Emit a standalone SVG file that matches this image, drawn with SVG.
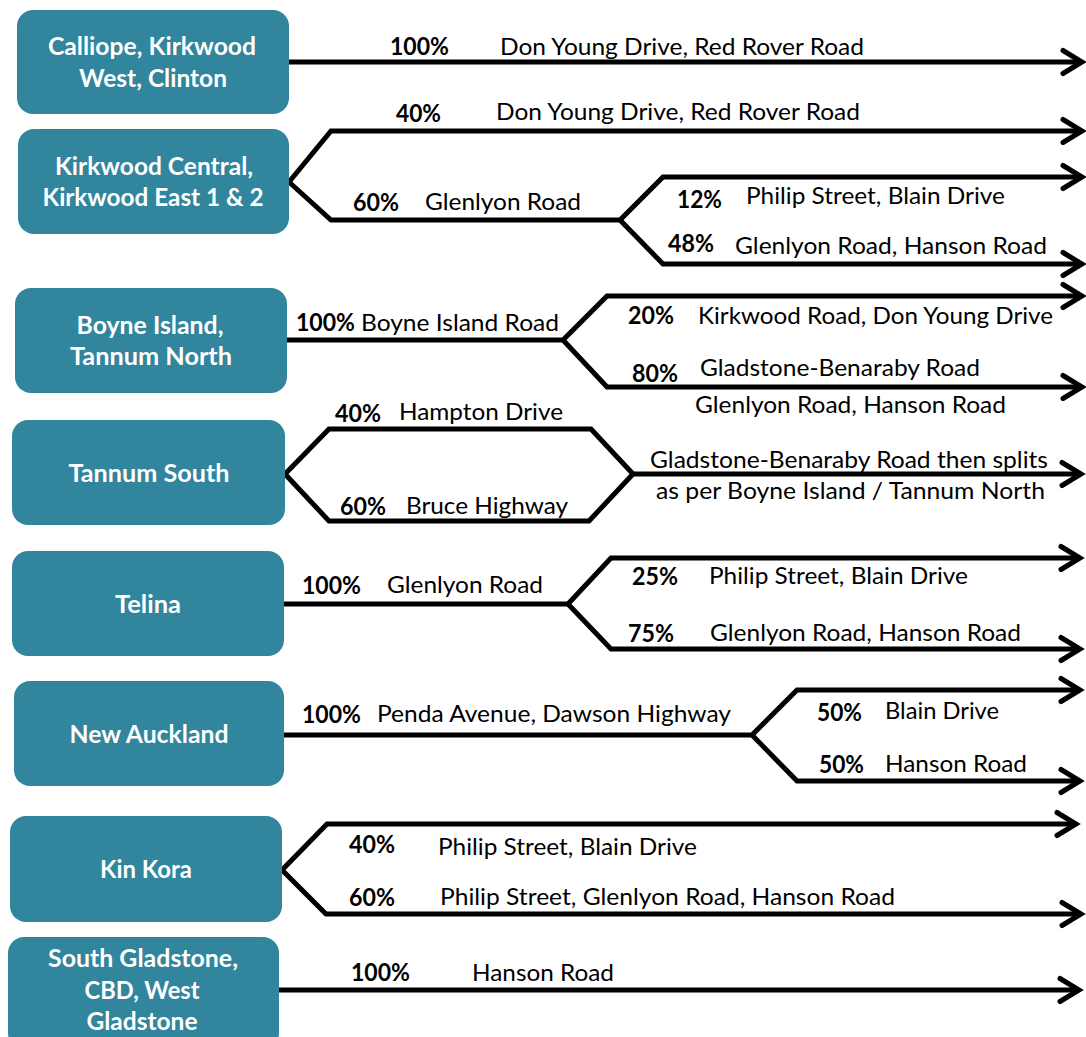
<svg xmlns="http://www.w3.org/2000/svg" width="1086" height="1037" viewBox="0 0 1086 1037">
<defs>
<style>
.box{fill:#31859C;}
.bx{font-family:Lato,"Liberation Sans",sans-serif;font-weight:bold;font-size:24px;fill:#FFFFFF;text-anchor:middle;}
.lb{font-family:Lato,"Liberation Sans",sans-serif;font-size:24px;fill:#000000;}
.pc{font-family:Lato,"Liberation Sans",sans-serif;font-weight:bold;font-size:24px;fill:#000000;}
.ln{fill:none;stroke:#000000;stroke-width:5;stroke-linejoin:miter;}
</style>
<marker id="ah" markerUnits="userSpaceOnUse" markerWidth="30" markerHeight="30" viewBox="-24 -15 30 30" refX="0" refY="0" orient="auto">
<path d="M-19,-11.5 L0,0 L-19,11.5" fill="none" stroke="#000000" stroke-width="5" stroke-linecap="round" stroke-linejoin="miter"/>
</marker>
</defs>
<rect width="1086" height="1037" fill="#FFFFFF"/>

<g id="connectors">
<path class="ln" d="M289,62 H1082" marker-end="url(#ah)"/>
<path class="ln" d="M289,182 L331,131 H1082" marker-end="url(#ah)"/>
<path class="ln" d="M289,182 L331,220 H620 L663,177 H1082" marker-end="url(#ah)"/>
<path class="ln" d="M620,220 L663,264 H1082" marker-end="url(#ah)"/>
<path class="ln" d="M287,340 H563 L607,296 H1082" marker-end="url(#ah)"/>
<path class="ln" d="M563,340 L607,387 H1082" marker-end="url(#ah)"/>
<path class="ln" d="M285,474 L329,429 H591 L633,474 M285,474 L329,521 H589 L633,474"/>
<path class="ln" d="M633,474 H1081" marker-end="url(#ah)"/>
<path class="ln" d="M284,604 H568 L611,558 H1080" marker-end="url(#ah)"/>
<path class="ln" d="M568,604 L611,649 H1080" marker-end="url(#ah)"/>
<path class="ln" d="M284,735 H752 L797,690 H1080" marker-end="url(#ah)"/>
<path class="ln" d="M752,735 L797,781 H1080" marker-end="url(#ah)"/>
<path class="ln" d="M282,870 L327,824 H1076" marker-end="url(#ah)"/>
<path class="ln" d="M282,870 L326,914 H1081" marker-end="url(#ah)"/>
<path class="ln" d="M279,990 H1079" marker-end="url(#ah)"/>
</g>

<g id="labels">
<text class="pc" x="390" y="55" textLength="59" lengthAdjust="spacingAndGlyphs">100%</text>
<text class="lb" x="500" y="55" textLength="364" lengthAdjust="spacingAndGlyphs">Don Young Drive, Red Rover Road</text>

<text class="pc" x="396" y="122" textLength="45" lengthAdjust="spacingAndGlyphs">40%</text>
<text class="lb" x="496" y="120" textLength="364" lengthAdjust="spacingAndGlyphs">Don Young Drive, Red Rover Road</text>
<text class="pc" x="353" y="211" textLength="46" lengthAdjust="spacingAndGlyphs">60%</text>
<text class="lb" x="425" y="210" textLength="156" lengthAdjust="spacingAndGlyphs">Glenlyon Road</text>
<text class="pc" x="677" y="208" textLength="45" lengthAdjust="spacingAndGlyphs">12%</text>
<text class="lb" x="746" y="204" textLength="259" lengthAdjust="spacingAndGlyphs">Philip Street, Blain Drive</text>
<text class="pc" x="668" y="252" textLength="46" lengthAdjust="spacingAndGlyphs">48%</text>
<text class="lb" x="735" y="254" textLength="312" lengthAdjust="spacingAndGlyphs">Glenlyon Road, Hanson Road</text>

<text class="pc" x="296" y="331" textLength="59" lengthAdjust="spacingAndGlyphs">100%</text>
<text class="lb" x="361" y="331" textLength="198" lengthAdjust="spacingAndGlyphs">Boyne Island Road</text>
<text class="pc" x="628" y="324" textLength="46" lengthAdjust="spacingAndGlyphs">20%</text>
<text class="lb" x="698" y="324" textLength="355" lengthAdjust="spacingAndGlyphs">Kirkwood Road, Don Young Drive</text>
<text class="pc" x="632" y="382" textLength="46" lengthAdjust="spacingAndGlyphs">80%</text>
<text class="lb" x="700" y="376" textLength="280" lengthAdjust="spacingAndGlyphs">Gladstone-Benaraby Road</text>
<text class="lb" x="695" y="413" textLength="311" lengthAdjust="spacingAndGlyphs">Glenlyon Road, Hanson Road</text>

<text class="pc" x="335" y="422" textLength="46" lengthAdjust="spacingAndGlyphs">40%</text>
<text class="lb" x="399" y="420" textLength="164" lengthAdjust="spacingAndGlyphs">Hampton Drive</text>
<text class="pc" x="340" y="515" textLength="46" lengthAdjust="spacingAndGlyphs">60%</text>
<text class="lb" x="406" y="514" textLength="162" lengthAdjust="spacingAndGlyphs">Bruce Highway</text>
<text class="lb" x="650" y="468" textLength="398" lengthAdjust="spacingAndGlyphs">Gladstone-Benaraby Road then splits</text>
<text class="lb" x="656" y="499" textLength="389" lengthAdjust="spacingAndGlyphs">as per Boyne Island / Tannum North</text>

<text class="pc" x="302" y="594" textLength="59" lengthAdjust="spacingAndGlyphs">100%</text>
<text class="lb" x="387" y="593" textLength="156" lengthAdjust="spacingAndGlyphs">Glenlyon Road</text>
<text class="pc" x="632" y="585" textLength="46" lengthAdjust="spacingAndGlyphs">25%</text>
<text class="lb" x="709" y="584" textLength="259" lengthAdjust="spacingAndGlyphs">Philip Street, Blain Drive</text>
<text class="pc" x="628" y="642" textLength="46" lengthAdjust="spacingAndGlyphs">75%</text>
<text class="lb" x="710" y="641" textLength="311" lengthAdjust="spacingAndGlyphs">Glenlyon Road, Hanson Road</text>

<text class="pc" x="302" y="723" textLength="59" lengthAdjust="spacingAndGlyphs">100%</text>
<text class="lb" x="377" y="722" textLength="354" lengthAdjust="spacingAndGlyphs">Penda Avenue, Dawson Highway</text>
<text class="pc" x="817" y="721" textLength="45" lengthAdjust="spacingAndGlyphs">50%</text>
<text class="lb" x="885" y="719" textLength="114" lengthAdjust="spacingAndGlyphs">Blain Drive</text>
<text class="pc" x="819" y="773" textLength="45" lengthAdjust="spacingAndGlyphs">50%</text>
<text class="lb" x="885" y="772" textLength="142" lengthAdjust="spacingAndGlyphs">Hanson Road</text>

<text class="pc" x="349" y="853" textLength="46" lengthAdjust="spacingAndGlyphs">40%</text>
<text class="lb" x="438" y="855" textLength="259" lengthAdjust="spacingAndGlyphs">Philip Street, Blain Drive</text>
<text class="pc" x="349" y="906" textLength="46" lengthAdjust="spacingAndGlyphs">60%</text>
<text class="lb" x="440" y="905" textLength="455" lengthAdjust="spacingAndGlyphs">Philip Street, Glenlyon Road, Hanson Road</text>

<text class="pc" x="351" y="981" textLength="59" lengthAdjust="spacingAndGlyphs">100%</text>
<text class="lb" x="472" y="981" textLength="142" lengthAdjust="spacingAndGlyphs">Hanson Road</text>
</g>

<g id="node-calliope">
<rect class="box" x="17" y="10" width="272" height="104" rx="16"/>
<text class="bx" x="152" y="55" textLength="208" lengthAdjust="spacingAndGlyphs">Calliope, Kirkwood</text>
<text class="bx" x="153" y="87" textLength="148" lengthAdjust="spacingAndGlyphs">West, Clinton</text>
</g>
<g id="node-kirkwood-central">
<rect class="box" x="18" y="129" width="271" height="105" rx="16"/>
<text class="bx" x="154" y="175" textLength="198" lengthAdjust="spacingAndGlyphs">Kirkwood Central,</text>
<text class="bx" x="153" y="206" textLength="221" lengthAdjust="spacingAndGlyphs">Kirkwood East 1 &amp; 2</text>
</g>
<g id="node-boyne-island">
<rect class="box" x="15" y="288" width="272" height="105" rx="16"/>
<text class="bx" x="150" y="334" textLength="147" lengthAdjust="spacingAndGlyphs">Boyne Island,</text>
<text class="bx" x="151" y="365" textLength="162" lengthAdjust="spacingAndGlyphs">Tannum North</text>
</g>
<g id="node-tannum-south">
<rect class="box" x="12" y="420" width="273" height="105" rx="16"/>
<text class="bx" x="149" y="482" textLength="161" lengthAdjust="spacingAndGlyphs">Tannum South</text>
</g>
<g id="node-telina">
<rect class="box" x="12" y="551" width="272" height="105" rx="16"/>
<text class="bx" x="148" y="613" textLength="66" lengthAdjust="spacingAndGlyphs">Telina</text>
</g>
<g id="node-new-auckland">
<rect class="box" x="14" y="681" width="270" height="105" rx="16"/>
<text class="bx" x="149" y="743" textLength="159" lengthAdjust="spacingAndGlyphs">New Auckland</text>
</g>
<g id="node-kin-kora">
<rect class="box" x="10" y="816" width="272" height="106" rx="16"/>
<text class="bx" x="146" y="878" textLength="92" lengthAdjust="spacingAndGlyphs">Kin Kora</text>
</g>
<g id="node-south-gladstone">
<rect class="box" x="8" y="937" width="271" height="112" rx="16"/>
<text class="bx" x="143" y="967" textLength="190" lengthAdjust="spacingAndGlyphs">South Gladstone,</text>
<text class="bx" x="142" y="999" textLength="115" lengthAdjust="spacingAndGlyphs">CBD, West</text>
<text class="bx" x="142" y="1030" textLength="111" lengthAdjust="spacingAndGlyphs">Gladstone</text>
</g>
</svg>
